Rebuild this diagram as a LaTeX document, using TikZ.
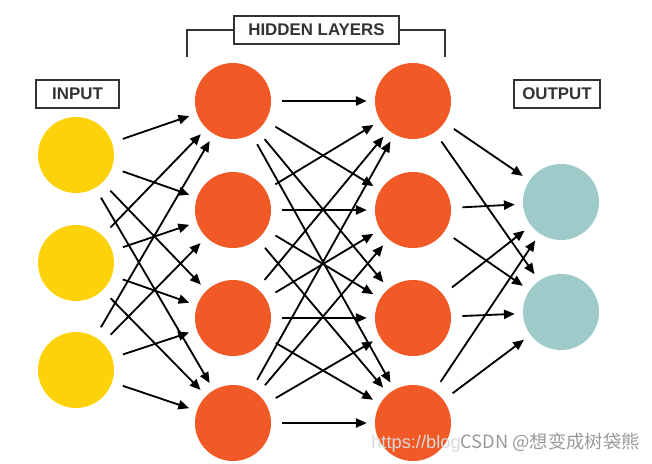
\documentclass[tikz,border=0pt]{standalone}
\usepackage{fontspec}
\setsansfont{Liberation Sans}
\newfontfamily\cjkfont{Noto Sans CJK SC}
\usetikzlibrary{arrows.meta}

\definecolor{amarillo}{HTML}{FDD20A}
\definecolor{naranja}{HTML}{F15A27}
\definecolor{turquesa}{HTML}{9FCACA}
\definecolor{borde}{HTML}{333333}

\tikzset{
  neurona/.style={circle, minimum size=1.9cm, inner sep=0pt},
  etiqueta/.style={draw=borde, line width=1.4pt, minimum height=0.72cm,
    inner sep=0pt, font=\sffamily\bfseries\large, text=borde},
  flecha/.style={line width=1.3pt, -{Triangle[length=2.7mm,width=2.3mm]},
    shorten <=0.28cm, shorten >=0.2cm},
}

\begin{document}
\begin{tikzpicture}[x=0.025cm, y=-0.025cm]
  \useasboundingbox (0,0) rectangle (652,463);
  % Capa de entrada
  \foreach \i/\y in {1/155, 2/263, 3/370}
    \node[neurona, fill=amarillo] (e\i) at (76,\y) {};
  % Capas ocultas
  \foreach \i/\y in {1/101, 2/210, 3/318, 4/423} {
    \node[neurona, fill=naranja] (a\i) at (233,\y) {};
    \node[neurona, fill=naranja] (b\i) at (413,\y) {};
  }
  % Capa de salida
  \foreach \i/\y in {1/202, 2/312}
    \node[neurona, fill=turquesa] (s\i) at (561,\y) {};
  % Conexiones entre capas
  \foreach \i in {1,2,3}
    \foreach \j in {1,...,4}
      \draw[flecha] (e\i) -- (a\j);
  \foreach \i in {1,...,4}
    \foreach \j in {1,...,4}
      \draw[flecha] (a\i) -- (b\j);
  \foreach \i in {1,...,4}
    \foreach \j in {1,2}
      \draw[flecha] (b\i) -- (s\j);
  % Etiquetas
  \node[etiqueta, minimum width=2.08cm] (entrada) at (77.5,94) {INPUT};
  \node[etiqueta, minimum width=4.1cm] (ocultas) at (316.5,30) {HIDDEN LAYERS};
  \node[etiqueta, minimum width=2.15cm] (salida) at (557,94) {OUTPUT};
  % Corchete sobre las capas ocultas
  \coordinate (izq) at (187,57);
  \coordinate (der) at (445,57);
  \draw[borde, line width=1.4pt] (izq) |- (ocultas.west);
  \draw[borde, line width=1.4pt] (ocultas.east) -| (der);
  % Marca de agua
  \node[anchor=west, inner sep=0pt, font=\sffamily\fontsize{13}{13}\selectfont]
    (marca) at (371,443)
    {\textcolor{gray!30}{https://blog}\textcolor{gray!80}{\cjkfont CSDN @想变成树袋熊}};
\end{tikzpicture}
\end{document}
